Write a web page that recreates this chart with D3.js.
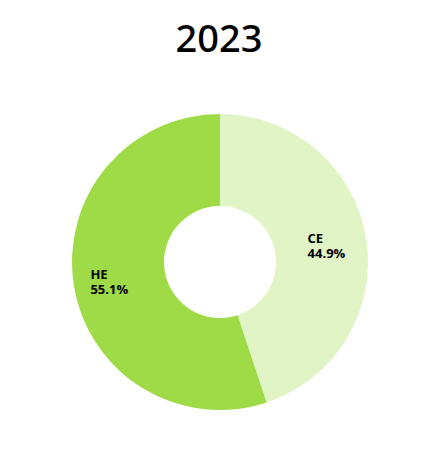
<!DOCTYPE html>
<html>
<head>
<meta charset="utf-8">
<script src="https://cdn.jsdelivr.net/npm/d3@7"></script>
<style>
  body { margin: 0; background: #fff; }
  text { font-family: "Open Sans", "Noto Sans", sans-serif; }
</style>
</head>
<body>
<svg width="440" height="450"></svg>
<script>
// Data
var title = "2023";
var labels = ["CE", "HE"];
var shares = [44.9, 55.1];
var colors = ["#e0f4c5", "#9edb47"];

var svg = d3.select("svg"),
  width = +svg.attr("width"),
  height = +svg.attr("height");

var cx = 220, cy = 262, outerR = 148, innerR = 56;

svg.append("text")
  .attr("x", 219)
  .attr("y", 52)
  .attr("text-anchor", "middle")
  .style("font-family", "'Noto Sans', sans-serif")
  .style("font-size", "38px")
  .style("font-weight", "500")
  .style("fill", "#000")
  .text(title);

var data = labels.map(function (d, i) {
  return { label: d, value: shares[i], color: colors[i] };
});

var pie = d3.pie()
  .sort(null)
  .value(function (d) { return d.value; });

var arc = d3.arc().innerRadius(innerR).outerRadius(outerR);
var labelArc = d3.arc().innerRadius(110).outerRadius(110);

var g = svg.append("g").attr("transform", "translate(" + cx + "," + cy + ")");

g.selectAll("path")
  .data(pie(data))
  .enter()
  .append("path")
  .attr("d", arc)
  .attr("fill", function (d) { return d.data.color; });

// labels, left aligned, block centred on slice centroid
var lbl = g.selectAll(".lbl")
  .data(pie(data))
  .enter()
  .append("g")
  .attr("class", "lbl")
  .attr("transform", function (d) {
    var c = labelArc.centroid(d);
    return "translate(" + (c[0] - 21) + "," + (c[1] - 1) + ")";
  });

lbl.append("text")
  .attr("y", 0)
  .style("font-size", "13px")
  .style("font-weight", "bold")
  .text(function (d) { return d.data.label; });

lbl.append("text")
  .attr("y", 15)
  .style("font-size", "13px")
  .style("font-weight", "bold")
  .text(function (d) { return d.data.value.toFixed(1) + "%"; });
</script>
</body>
</html>
